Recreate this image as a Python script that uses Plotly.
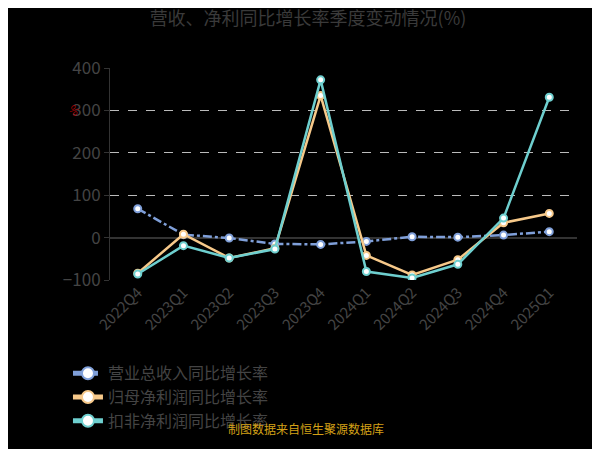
import plotly.graph_objects as go

quarters = ["2022Q4","2023Q1","2023Q2","2023Q3","2023Q4","2024Q1","2024Q2","2024Q3","2024Q4","2025Q1"]
revenue = [68, 7, -1, -15, -16, -9, 2, 1, 6, 14]
net_profit = [-84, 8, -48, -25, 335, -42, -88, -52, 35, 57]
deducted = [-86, -19, -48, -27, 372, -80, -95, -63, 46, 331]

fig = go.Figure()
series = [("营业总收入同比增长率", revenue, "#7f9fd9", "dashdot"),
          ("归母净利润同比增长率", net_profit, "#f7c98a", "solid"),
          ("扣非净利润同比增长率", deducted, "#6ecfcf", "solid")]
for name, vals, col, dash in series:
    fig.add_trace(go.Scatter(x=quarters, y=vals, name=name, mode="lines+markers",
        line=dict(color=col, width=2.5, dash=dash),
        marker=dict(size=7, color="white", line=dict(color=col, width=2))))

fig.update_layout(
    width=600, height=449, paper_bgcolor="black", plot_bgcolor="black",
    margin=dict(l=102, r=31, t=60, b=177),
    title=dict(text="营收、净利同比增长率季度变动情况(%)", x=0.5, y=0.99, yanchor="top",
               font=dict(size=18, color="#3a3a3a", family="Noto Sans CJK SC")),
    font=dict(family="Noto Sans CJK SC", color="#555"),
    showlegend=True,
    legend=dict(orientation="h", x=-0.09, y=-0.36, xanchor="left", yanchor="top",
                font=dict(size=16, color="#444"), itemsizing="constant",
                entrywidth=245, tracegroupgap=10),
    xaxis=dict(showgrid=False, tickangle=-45, tickfont=dict(size=15, color="#444"),
               showline=False, ticks="", zeroline=False),
    yaxis=dict(range=[-100, 400], dtick=100, gridcolor="#bbbbbb", griddash="dash",
               tickfont=dict(size=17, color="#444"), showline=True, linecolor="#333",
               zeroline=True, zerolinecolor="#333", ticks="outside", tickcolor="#333"),
)
fig.add_annotation(text="%", xref="paper", yref="paper", x=-0.1, y=0.86, showarrow=False,
                   font=dict(size=11, color="#a00000"), textangle=45)
fig.add_annotation(text="制图数据来自恒生聚源数据库", xref="paper", yref="y domain",
                   x=0.42, y=-0.75, showarrow=False, font=dict(size=12, color="#d4a017"))
fig.write_html("out.html")
